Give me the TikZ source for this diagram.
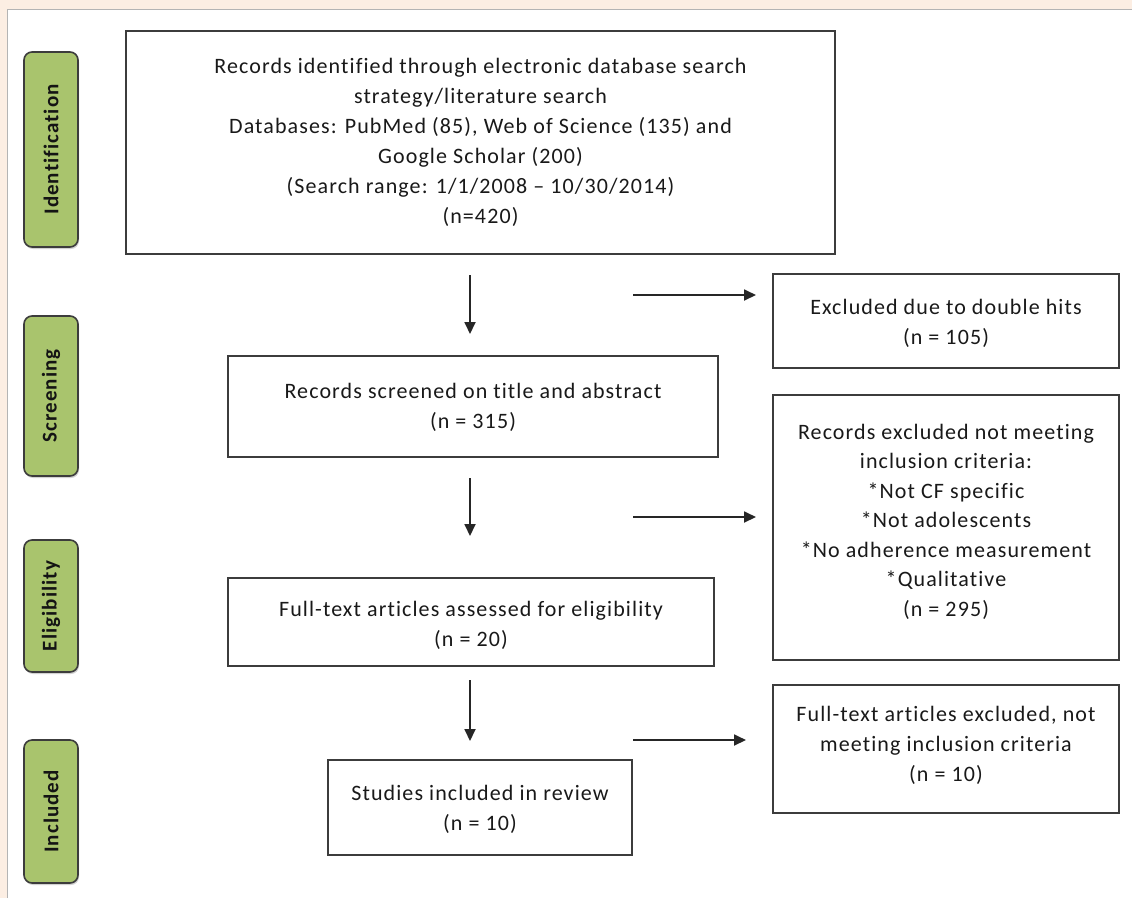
\documentclass[tikz,border=0pt]{standalone}
\usepackage{fontspec}
\setmainfont{Carlito}[LetterSpace=5, Ligatures=NoCommon]
\usetikzlibrary{arrows.meta,shadows}
\definecolor{peach}{HTML}{FCEEE3}
\definecolor{tabgreen}{HTML}{A9C46D}
\definecolor{boxline}{HTML}{3C3C3C}
\definecolor{panelline}{HTML}{B4B4B4}
\tikzset{
  box/.style={draw=boxline, line width=1.8pt, fill=white, inner sep=0pt},
  btext/.style={align=center, font=\fontsize{22}{30}\selectfont, text=black!90},
  tab/.style={draw=boxline, line width=1.6pt, fill=tabgreen, rounded corners=8pt,
    drop shadow={opacity=0.35, shadow xshift=1pt, shadow yshift=-2pt}},
  tabtext/.style={rotate=90, font=\fontsize{21}{22}\selectfont\bfseries, text=black!92},
  arr/.style={-{Triangle[length=12pt,width=11pt]}, line width=1.8pt, draw=black!85}
}
\begin{document}
\begin{tikzpicture}[x=1pt,y=-1pt]
\useasboundingbox (0,0) rectangle (1132,898);
\fill[peach] (0,0) rectangle (1132,898);
\fill[white] (7,9) rectangle (1132,898);
\draw[panelline, line width=1pt] (7,898) -- (7,9) -- (1132,9);

% stage tabs
\node[tab, minimum width=54pt, minimum height=195pt] (tid) at (51,149.5) {};
\node[tabtext] at (tid.center) {Identification};
\node[tab, minimum width=54pt, minimum height=160pt] (tsc) at (51,396) {};
\node[tabtext] at (tsc.center) {Screening};
\node[tab, minimum width=54pt, minimum height=132pt] (tel) at (51,606) {};
\node[tabtext] at (tel.center) {Eligibility};
\node[tab, minimum width=54pt, minimum height=143pt] (tin) at (51,811.5) {};
\node[tabtext] at (tin.center) {Included};

% main boxes
\node[box, minimum width=709pt, minimum height=223pt] (b1) at (480.5,142.5) {};
\node[btext] at (b1.center) {Records identified through electronic database search\\strategy/literature search\\Databases: PubMed (85), Web of Science (135) and\\Google Scholar (200)\\(Search range: 1/1/2008 -- 10/30/2014)\\(n=420)};

\node[box, minimum width=490pt, minimum height=101pt] (b2) at (473,406.5) {};
\node[btext] at ([yshift=-1pt]b2.center) {Records screened on title and abstract\\(n = 315)};

\node[box, minimum width=486pt, minimum height=88pt] (b3) at (471,622) {};
\node[btext] at ([yshift=-3pt]b3.center) {Full-text articles assessed for eligibility\\(n = 20)};

\node[box, minimum width=304pt, minimum height=95pt] (b4) at (480,807.5) {};
\node[btext] at ([yshift=-2pt]b4.center) {Studies included in review\\(n = 10)};

% exclusion boxes
\node[box, minimum width=346pt, minimum height=94pt] (e1) at (946,321) {};
\node[btext] at ([yshift=-2pt]e1.center) {Excluded due to double hits\\(n = 105)};

\node[box, minimum width=346pt, minimum height=265pt] (e2) at (946,527.5) {};
\node[btext, font=\fontsize{22}{29.5}\selectfont] at ([yshift=6pt]e2.center) {Records excluded not meeting\\inclusion criteria:\\*Not CF specific\\*Not adolescents\\*No adherence measurement\\*Qualitative\\(n = 295)};

\node[box, minimum width=346pt, minimum height=128pt] (e3) at (946,749) {};
\node[btext] at ([yshift=4pt]e3.center) {Full-text articles excluded, not\\meeting inclusion criteria\\(n = 10)};

% arrows
\coordinate (d1s) at (470,275); \coordinate (d1e) at (470,334);
\coordinate (d2s) at (470,478); \coordinate (d2e) at (470,536);
\coordinate (d3s) at (470,680); \coordinate (d3e) at (470,741);
\coordinate (r1s) at (633,295); \coordinate (r1e) at (756,295);
\coordinate (r2s) at (633,517); \coordinate (r2e) at (756,517);
\coordinate (r3s) at (633,740); \coordinate (r3e) at (746,740);
\draw[arr] (d1s) -- (d1e);
\draw[arr] (d2s) -- (d2e);
\draw[arr] (d3s) -- (d3e);
\draw[arr] (r1s) -- (r1e);
\draw[arr] (r2s) -- (r2e);
\draw[arr] (r3s) -- (r3e);
\end{tikzpicture}
\end{document}
